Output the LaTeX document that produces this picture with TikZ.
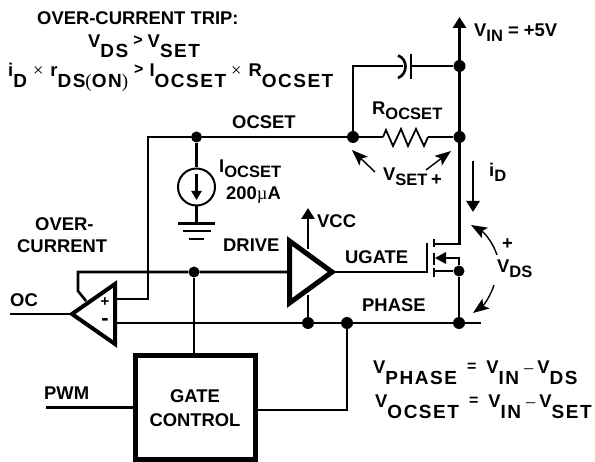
\documentclass[tikz,border=0pt]{standalone}
\usepackage{fontspec}
\setmainfont{Liberation Sans}[BoldFont=Liberation Sans Bold]
\newfontfamily\serifthin{Liberation Serif}
\usetikzlibrary{arrows.meta}
\newcommand{\sz}{\fontsize{18.4}{20}\selectfont}
\newcommand{\sbs}[2][11]{\raisebox{-#1pt}{\fontsize{19}{20}\selectfont\addfontfeature{LetterSpace=8}#2}}
\newcommand{\sbn}[1]{\raisebox{-5pt}{\fontsize{16.5}{18}\selectfont #1}}
\newcommand{\thin}[1]{{\fontseries{m}\serifthin #1}}
\newcommand{\smsym}[1]{\raisebox{2pt}{\fontsize{16}{16}\selectfont #1}}
\newcommand{\gp}[1]{\hspace{#1pt}}
\tikzset{
 x=1pt,y=-1pt,
 wire/.style={line width=2.6pt,line cap=butt,line join=miter},
 jdot/.style={circle,fill=black,inner sep=0pt,minimum size=12pt},
 lab/.style={anchor=base west,inner sep=0pt,font=\bfseries\sz},
 tipped/.style={-{Triangle[length=11pt,width=13pt]}},
 volt/.style={line width=1.4pt,-{Stealth[length=16pt,width=12pt,inset=3.5pt]}},
 amp/.style={draw=black,line width=4pt,line join=miter,miter limit=10},
 gatebox/.style={draw=black,line width=5pt,minimum width=120pt,minimum height=104pt,inner sep=0pt,align=center,font=\bfseries\sz},
}
\begin{document}
\begin{tikzpicture}
\useasboundingbox (0,0) rectangle (595,462);
% coordinates
\coordinate (cmpA) at (72,314);
\coordinate (cmpT) at (115,284);
\coordinate (cmpB) at (115,344);
\coordinate (drvA) at (332,272);
\coordinate (drvT) at (289.5,241);
\coordinate (drvB) at (289.5,303);
\node[jdot,minimum size=11pt] (jocs) at (196.5,137) {};
\node[jdot] (jcl) at (353,137) {};
\node[jdot] (jrr) at (459.5,137) {};
\node[jdot] (jcap) at (459.5,66) {};
\node[jdot,minimum size=11pt] (jdrive) at (194,272) {};
\node[jdot] (jv) at (308,323) {};
\node[jdot] (jg) at (347,323) {};
\node[jdot] (jp) at (459,323) {};
\node[jdot,minimum size=11pt] (js) at (459,271) {};
\node[gatebox] (gate) at (195,408) {GATE\\[4.5pt]CONTROL};
\coordinate (top) at (459.5,17);
\coordinate (phend) at (481,323);
\coordinate (inP) at (115,299);
\coordinate (inM) at (115,323);
\coordinate (cornP) at (148,299);
\coordinate (cornT) at (148,137);
\coordinate (fbA) at (78,272);
\coordinate (fbB) at (78,291);
\coordinate (fbC) at (86,301);
\coordinate (ocL) at (10,314);
\coordinate (pwmL) at (46,407.5);
\coordinate (rL) at (383,137);
\coordinate (rR) at (428,137);
% wires
\draw[wire] (cmpA) -- (ocL);
\draw[wire] (inP) -- (cornP) -- (cornT) -- (jocs) -- (jcl) -- (rL);
\draw[wire] (rR) -- (jrr);
\draw[wire] (fbC) -- (fbB) -- (fbA) -- (jdrive) -- (drvT |- jdrive);
\draw[wire] (jdrive) -- (jdrive |- gate.north);
\draw[wire] (inM) -- (jv) -- (jg) -- (jp) -- (phend);
\draw[wire] (pwmL) -- (pwmL -| gate.west);
\draw[wire] (gate.east |- 0,410) -| (jg);
\draw[wire] (jv) -- (308,295);
\draw[wire,tipped] (308,249) -- (308,208);
% amplifiers
\draw[amp] (cmpT) -- (cmpA) -- (cmpB) -- cycle;
\draw[amp,line width=5pt] (drvT) -- (drvA) -- (drvB) -- cycle;
% resistor
\draw[line width=1.8pt,line join=miter] (rL) -- (386,130) -- (393,146) -- (401,129) -- (408,146) -- (416,129) -- (424,146) -- (rR);
% capacitor
\coordinate (cL) at (353,66);
\draw[wire] (jcl) -- (cL) -- (403,66);
\draw[wire] (411,66) -- (jcap);
\draw[wire] (411,54) -- (411,79);
\draw[wire] (398,55.5) .. controls (408,59) and (408,74) .. (398,78);
% supply rail
\draw[line width=2.8pt,tipped] (jrr) -- (top);
\draw[wire,line width=2.8pt] (jrr) -- (459.5,244) -- (433,244);
% MOSFET
\coordinate (ug) at (427,272);
\draw[wire] (drvA) -- (ug) -- (427,243);
\draw[wire] (434,239) -- (434,247);
\draw[wire] (434,253) -- (434,265);
\draw[wire] (434,268) -- (434,277);
\draw[wire] (434,271) -- (js);
\draw[wire] (459,258) -- (444,258);
\fill (435,258) -- (446,252) -- (446,264) -- cycle;
\draw[wire] (459,257) -- (js) -- (jp);
% ground and source
\node[circle,draw=black,line width=2pt,minimum size=37pt,inner sep=0pt] (src) at (196.5,187) {};
\draw[wire] (jocs) -- (src.north);
\coordinate (gnd) at (196.5,223);
\draw[wire] (src.south) -- (gnd);
\draw[wire] (178,223.5) -- (215,223.5);
\draw[wire] (183,231) -- (211,231);
\draw[wire] (189,239) -- (204,239);
\draw[wire,-{Triangle[length=9pt,width=10pt]}] (196.5,174) -- (196.5,200);
% current arrow
\draw[wire,-{Triangle[length=11pt,width=13pt]}] (473,161) -- (473,212);
% voltage arrows
\draw[volt] (375,172) -- (352,150);
\draw[volt] (426,170) -- (451,151);
\draw[volt] (497,255) .. controls (493,243) and (485,233) .. (471,225);
\draw[volt] (494,285) .. controls (491,295) and (484,305) .. (473,313);
% labels
\node[lab] (t1) at (37,25) {OVER-CURRENT TRIP:};
\node[lab] (t2) at (88,48) {V\sbs[10]{DS}\gp{5}\smsym{>}\gp{5}V\sbs[10]{SET}};
\node[lab] (t3) at (8,77) {i\sbs{D}\gp{6}\thin{×}\gp{7}r\sbs{DS\thin{(}ON\thin{)}}\gp{6}\smsym{>}\gp{6}I\sbs{OCSET}\gp{5}\thin{×}\gp{7}R\sbs{OCSET}};
\node[lab] (t4) at (232,129) {OCSET};
\node[lab] (t5) at (219,173) {I\sbn{OCSET}};
\node[lab] (t6) at (226,200) {200\thin{µ}A};
\node[lab] (t7) at (35,231) {OVER-};
\node[lab] (t8) at (17,253) {CURRENT};
\node[lab] (t9) at (223,251.5) {DRIVE};
\node[lab] (t10) at (10,307) {OC};
\node[lab] (t11) at (44,400) {PWM};
\node[lab] (t12) at (345,264) {UGATE};
\node[lab] (t13) at (362,312) {PHASE};
\node[lab] (t14) at (317,228) {VCC};
\node[lab] (t15) at (474,37) {V\sbn{IN} = +5V};
\node[lab] (t16) at (372,115) {R\sbn{OCSET}};
\node[lab] (t17) at (383,181) {V\sbn{SET}};
\node[lab] (t18) at (431,186) {+};
\node[lab] (t19) at (489,177) {i\sbn{D}};
\node[lab] (t20) at (502,250) {+};
\node[lab] (t21) at (497,273) {V\sbn{DS}};
\node[lab] (t22) at (373,374) {V\sbs{PHASE}\gp{10}\smsym{=}\gp{10}V\sbs{IN}\gp{5}\thin{–}\gp{4}V\sbs{DS}};
\node[lab] (t23) at (375,408) {V\sbs{OCSET}\gp{10}\smsym{=}\gp{10}V\sbs{IN}\gp{5}\thin{–}\gp{4}V\sbs{SET}};
\node[inner sep=0pt,font=\bfseries\fontsize{15}{15}\selectfont] (plus) at (105,302) {+};
\node[inner sep=0pt,font=\bfseries\fontsize{22}{22}\selectfont] (minus) at (105,322) {-};
\end{tikzpicture}
\end{document}
